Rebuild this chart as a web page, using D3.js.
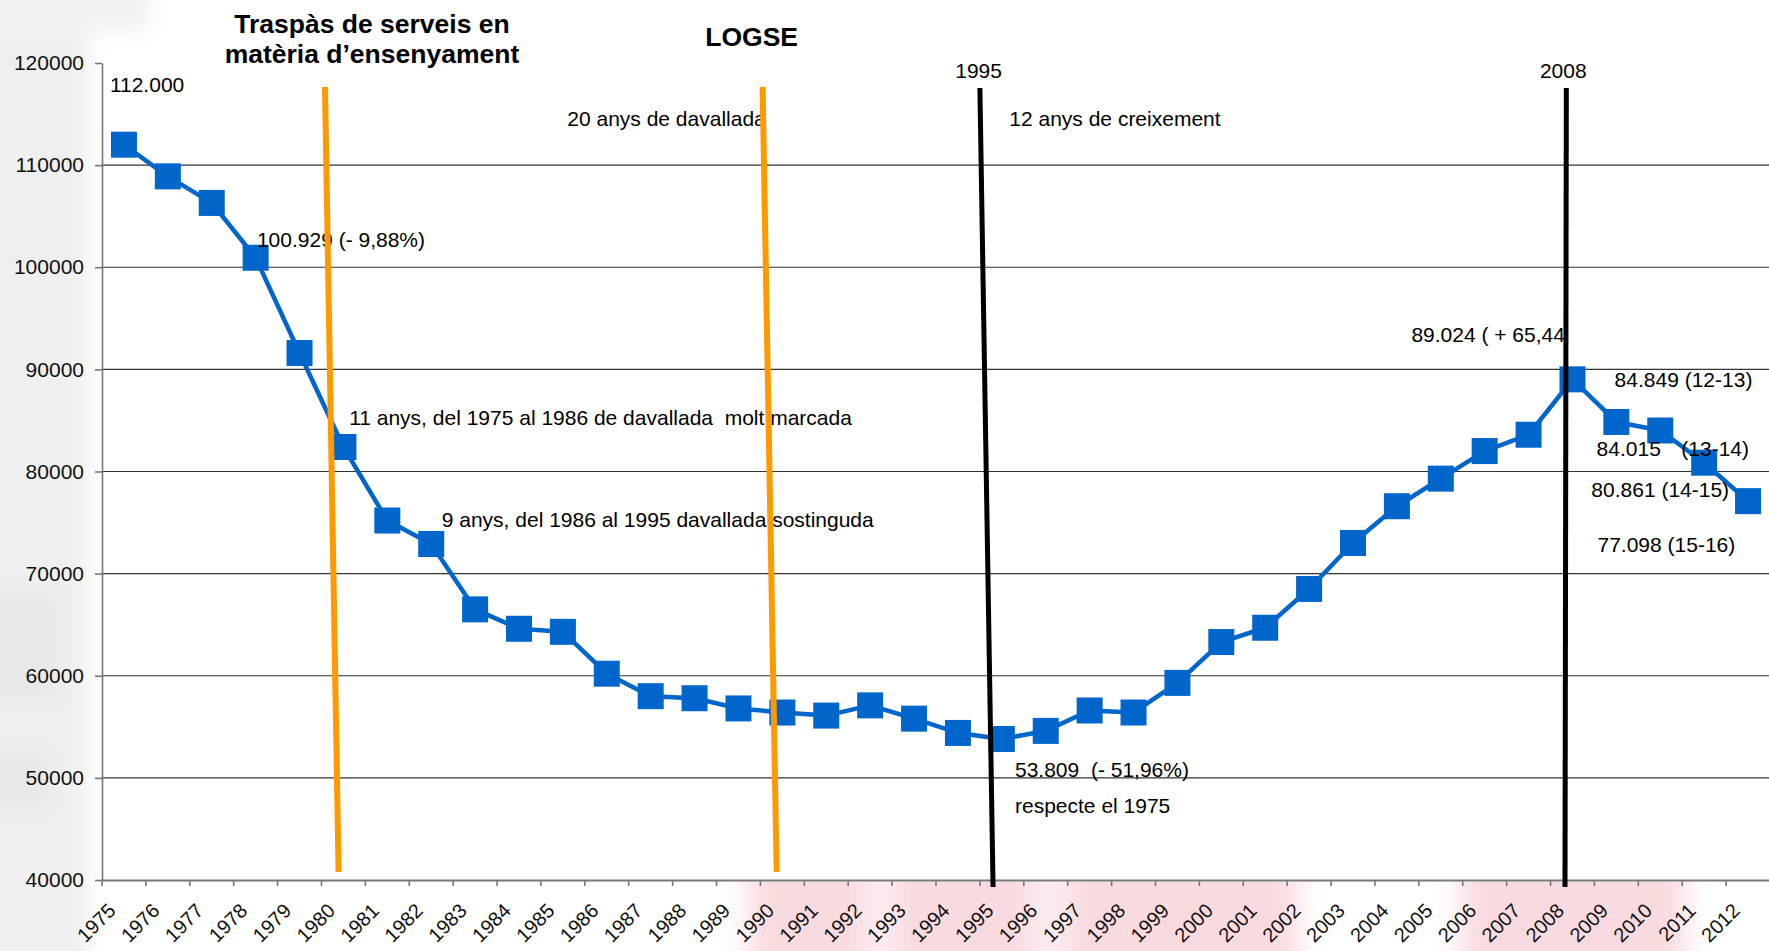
<!DOCTYPE html>
<html>
<head>
<meta charset="utf-8">
<script src="https://cdn.jsdelivr.net/npm/d3@7/dist/d3.min.js"></script>
<style>
  body { margin: 0; background: #fff; overflow: hidden; }
  svg text { font-family: Arial, "Liberation Sans", sans-serif; }
</style>
</head>
<body>
<svg id="chart"></svg>
<script>
// categories and values
const years = ['1975', '1976', '1977', '1978', '1979', '1980', '1981', '1982', '1983', '1984',
  '1985', '1986', '1987', '1988', '1989', '1990', '1991', '1992', '1993', '1994',
  '1995', '1996', '1997', '1998', '1999', '2000', '2001', '2002', '2003', '2004',
  '2005', '2006', '2007', '2008', '2009', '2010', '2011', '2012'];
const students = [112000, 108900, 106300, 100929, 91600, 82400, 75200, 72900, 66500, 64600,
  64300, 60200, 58000, 57800, 56800, 56400, 56100, 57100, 55800, 54400,
  53809, 54600, 56600, 56400, 59300, 63300, 64700, 68500, 73000, 76600,
  79300, 82000, 83600, 89024, 84849, 84015, 80861, 77098];
const yTicks = [40000, 50000, 60000, 70000, 80000, 90000, 100000, 110000, 120000];

// annotation lines, placed in (year, value) units
const markerLines = [
  {y1: 1979.58, v1: 117650, y2: 1979.89, v2: 40780, color: '#FF9900'},
  {y1: 1989.55, v1: 117650, y2: 1989.87, v2: 40780, color: '#FF9900'},
  {y1: 1994.50, v1: 117550, y2: 1994.80, v2: 39310, color: '#000'},
  {y1: 2007.86, v1: 117550, y2: 2007.83, v2: 39310, color: '#000'}
];
// plain notes: start at (year, value) on the baseline
const notes = [
  ['112.000', 1974.68, 117190],
  ['100.929 (- 9,88%)', 1978.03, 102012],
  ['20 anys de davallada', 1985.10, 113832],
  ['12 anys de creixement', 1995.17, 113832],
  ['11 anys, del 1975 al 1986 de davallada  molt marcada', 1980.13, 84554],
  ['9 anys, del 1986 al 1995 davallada sostinguda', 1982.24, 74595],
  ['53.809  (- 51,96%)', 1995.30, 50115],
  ['respecte el 1975', 1995.30, 46531],
  ['89.024 ( + 65,44', 2004.33, 92711],
  ['84.849 (12-13)', 2008.96, 88245],
  ['84.015', 2008.55, 81518],
  ['(13-14)', 2010.48, 81518],
  ['80.861 (14-15)', 2008.43, 77533],
  ['77.098 (15-16)', 2008.57, 72089]
];
// headings above the plot, centred
const headings = [
  ['Traspàs de serveis en', 1980.65, 122960, true],
  ['matèria d’ensenyament', 1980.65, 120020, true],
  ['LOGSE', 1989.30, 121660, true],
  ['1995', 1994.47, 118560, false],
  ['2008', 2007.79, 118560, false]
];

const dim = {w: 1769, h: 951, left: 102, right: 1770, top: 63, bottom: 880};
const $svg = d3.select('#chart').attr('width', dim.w).attr('height', dim.h);

const xBand = d3.scaleBand().domain(years).range([dim.left, dim.right]),
  bw = xBand.bandwidth(),
  xYear = d3.scaleLinear()
    .domain([1975, 2012])
    .range([xBand('1975') + bw / 2, xBand('2012') + bw / 2]),
  yScale = d3.scaleLinear().domain([40000, 120000]).range([dim.bottom, dim.top]);

// blurred scan stains: grey on the left, pink under the axis
const defs = $svg.append('defs');
defs.append('filter').attr('id', 'blurA').attr('x', '-50%').attr('y', '-50%').attr('width', '200%').attr('height', '200%')
  .append('feGaussianBlur').attr('stdDeviation', 9);
defs.append('filter').attr('id', 'blurB').attr('x', '-50%').attr('y', '-50%').attr('width', '200%').attr('height', '200%')
  .append('feGaussianBlur').attr('stdDeviation', '14 4');
defs.append('clipPath').attr('id', 'belowAxis')
  .append('rect').attr('x', 0).attr('y', dim.bottom + 2).attr('width', dim.w).attr('height', 80);

const $stain = $svg.append('g');
$stain.append('rect').attr('x', -30).attr('y', -30).attr('width', 118).attr('height', 1020)
  .attr('fill', '#efefef').attr('filter', 'url(#blurA)');
$stain.append('rect').attr('x', -30).attr('y', -30).attr('width', 180).attr('height', 62)
  .attr('fill', '#f2f2f2').attr('filter', 'url(#blurA)');
$stain.append('rect').attr('x', -20).attr('y', 590).attr('width', 80).attr('height', 110)
  .attr('fill', '#e8e8e8').attr('filter', 'url(#blurA)');
$stain.append('rect').attr('x', -20).attr('y', 750).attr('width', 70).attr('height', 60)
  .attr('fill', '#e8e8e8').attr('filter', 'url(#blurA)');
const $pink = $svg.append('g').attr('clip-path', 'url(#belowAxis)');
$pink.append('rect').attr('x', 748).attr('y', dim.bottom - 10).attr('width', 550).attr('height', 100)
  .attr('fill', '#f9dade').attr('filter', 'url(#blurB)');
$pink.append('rect').attr('x', 1460).attr('y', dim.bottom - 10).attr('width', 225).attr('height', 100)
  .attr('fill', '#f9dade').attr('filter', 'url(#blurB)');
// lighter patches inside the pink
$pink.append('rect').attr('x', 865).attr('y', dim.bottom - 10).attr('width', 30).attr('height', 100)
  .attr('fill', '#fdf0f2').attr('filter', 'url(#blurB)');
$pink.append('rect').attr('x', 1030).attr('y', dim.bottom - 10).attr('width', 40).attr('height', 100)
  .attr('fill', '#fcecef').attr('filter', 'url(#blurB)');

// gridlines
$svg.append('g').selectAll('line')
  .data(yTicks.filter((t) => t > 40000 && t < 120000))
  .enter()
  .append('line')
  .attr('x1', dim.left)
  .attr('x2', dim.w)
  .attr('y1', (d) => yScale(d))
  .attr('y2', (d) => yScale(d))
  .attr('stroke', '#333')
  .attr('stroke-width', 1.2);

// y axis
const $yAxis = $svg.append('g')
  .attr('transform', 'translate(' + dim.left + ',0)')
  .call(d3.axisLeft(yScale).tickValues(yTicks).tickSize(7).tickSizeOuter(0).tickPadding(11).tickFormat(d3.format('d')));
$yAxis.select('.domain').attr('stroke', '#777').attr('stroke-width', 1.6);
$yAxis.selectAll('.tick line').attr('stroke', '#777').attr('stroke-width', 1.6);
$yAxis.selectAll('.tick text').attr('font-size', 21).attr('fill', '#111')
  .attr('font-family', 'Arial, "Liberation Sans", sans-serif');

// x axis: ticks on the category edges, slanted labels
const $xAxis = $svg.append('g')
  .attr('transform', 'translate(0,' + dim.bottom + ')')
  .call(d3.axisBottom(xBand).tickSize(6).tickSizeOuter(0));
$xAxis.select('.domain').attr('stroke', '#777').attr('stroke-width', 2);
$xAxis.selectAll('.tick line').attr('stroke', '#777').attr('stroke-width', 1.6)
  .attr('transform', 'translate(' + (-bw / 2) + ',0)');
$xAxis.selectAll('.tick text')
  .attr('x', 0).attr('y', 0).attr('dy', 0)
  .attr('text-anchor', 'end')
  .attr('font-size', 20).attr('fill', '#111')
  .attr('font-family', 'Arial, "Liberation Sans", sans-serif')
  .attr('transform', 'translate(-7,32) rotate(-45)');

// series
const line = d3.line()
  .x((d, i) => xBand(years[i]) + bw / 2)
  .y((d) => yScale(d));
$svg.append('path')
  .datum(students)
  .attr('d', line)
  .attr('fill', 'none')
  .attr('stroke', '#0066CC')
  .attr('stroke-width', 4.5)
  .attr('stroke-linejoin', 'round');
const mk = 26;
$svg.append('g').selectAll('rect')
  .data(students)
  .enter()
  .append('rect')
  .attr('x', (d, i) => xBand(years[i]) + bw / 2 - mk / 2)
  .attr('y', (d) => yScale(d) - mk / 2)
  .attr('width', mk)
  .attr('height', mk)
  .attr('fill', '#0066CC');

// notes
$svg.append('g').selectAll('text')
  .data(notes)
  .enter()
  .append('text')
  .attr('x', (d) => xYear(d[1]))
  .attr('y', (d) => yScale(d[2]))
  .attr('font-size', 21)
  .attr('fill', '#000')
  .style('white-space', 'pre')
  .text((d) => d[0]);
$svg.append('g').selectAll('text')
  .data(headings)
  .enter()
  .append('text')
  .attr('x', (d) => xYear(d[1]))
  .attr('y', (d) => yScale(d[2]))
  .attr('text-anchor', 'middle')
  .attr('font-size', (d) => d[3] ? 26.5 : 21)
  .attr('font-weight', (d) => d[3] ? 'bold' : 'normal')
  .attr('fill', '#000')
  .text((d) => d[0]);

// period lines, drawn on top
$svg.append('g').selectAll('line')
  .data(markerLines)
  .enter()
  .append('line')
  .attr('x1', (d) => xYear(d.y1))
  .attr('y1', (d) => yScale(d.v1))
  .attr('x2', (d) => xYear(d.y2))
  .attr('y2', (d) => yScale(d.v2))
  .attr('stroke', (d) => d.color)
  .attr('stroke-width', (d) => d.color == '#000' ? 5 : 6);
</script>
</body>
</html>
